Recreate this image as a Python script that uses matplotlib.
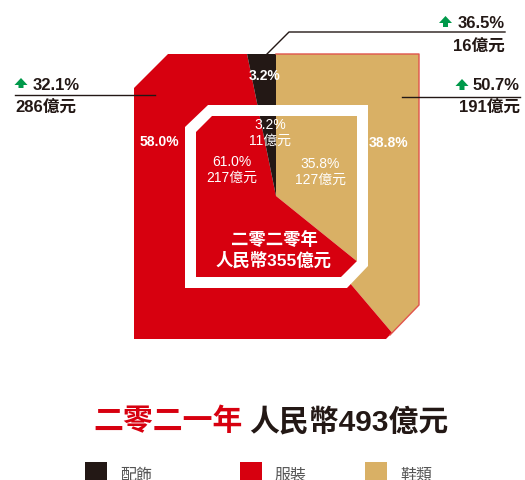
import matplotlib
matplotlib.use("Agg")
import matplotlib.pyplot as plt
from matplotlib.patches import Polygon, FancyArrow, Rectangle
from matplotlib.path import Path

# data
categories = ["配飾", "服裝", "鞋類"]
colors = ["#231815", "#D7000F", "#D9B065"]
share_2021 = [3.2, 58.0, 38.8]
value_2021 = [16, 286, 191]
growth_2021 = [36.5, 32.1, 50.7]
share_2020 = [3.2, 61.0, 35.8]
value_2020 = [11, 217, 127]
total_2021 = 493
total_2020 = 355

W, H = 525, 481
FONT = ["Liberation Sans", "Noto Sans CJK TC", "DejaVu Sans"]
plt.rcParams["font.family"] = FONT


def py(y):
    # pixel row -> data y (y axis points up)
    return H - y


def pts(seq):
    return [(x, py(y)) for x, y in seq]


fig = plt.figure(figsize=(W / 100, H / 100), dpi=100)
ax = fig.add_axes([0, 0, 1, 1])

center = (276, py(197))
order = [2, 1, 0]  # clockwise from 12 o'clock: shoes, apparel, accessories

# outer (2021) pie clipped to a cut-corner square
outer_verts = pts([(168, 55), (419, 55), (419, 306), (386, 340),
                   (134, 340), (134, 89), (168, 55)])
wedges, _ = ax.pie([share_2021[i] for i in order],
                   colors=[colors[i] for i in order],
                   startangle=90, counterclock=False,
                   center=center, radius=330,
                   wedgeprops=dict(linewidth=0))
for w in wedges:
    w.set_clip_on(True)  # pie turns clipping off
    w.set_clip_path(Path(outer_verts, closed=True), ax.transData)
    w.set_zorder(2)
ax.plot(*zip(*pts([(276, 55), (419, 55), (419, 306), (390, 336)])),
        color="#E0544C", lw=1.0, zorder=3)

# white frame + inner (2020) pie
ax.add_patch(Polygon(pts([(208, 106), (368, 106), (368, 267), (347, 289),
                          (185, 289), (185, 128)]),
                     closed=True, facecolor="white", lw=0, zorder=4))
inner_verts = pts([(212, 117), (357, 117), (357, 262), (341, 278),
                   (196, 278), (196, 133), (212, 117)])
wedges2, _ = ax.pie([share_2020[i] for i in order],
                    colors=[colors[i] for i in order],
                    startangle=90, counterclock=False,
                    center=center, radius=200,
                    wedgeprops=dict(linewidth=0))
for w in wedges2:
    w.set_clip_on(True)
    w.set_clip_path(Path(inner_verts, closed=True), ax.transData)
    w.set_zorder(5)

ax.set_xlim(0, W)
ax.set_ylim(0, H)
ax.set_aspect("auto")
ax.axis("off")

# outer labels
bold = dict(color="white", fontsize=10, fontweight="bold",
            ha="center", va="center", zorder=6)
ax.text(265, py(76), f"{share_2021[0]:.1f}%", **bold)
ax.text(159, py(142), f"{share_2021[1]:.1f}%", **bold)
ax.text(389, py(143), f"{share_2021[2]:.1f}%", **bold)

# inner labels
thin = dict(color="white", fontsize=10, ha="center", va="center",
            zorder=6, linespacing=1.15)
ax.text(270, py(133), f"{share_2020[0]:.1f}%\n{value_2020[0]}億元", **thin)
ax.text(232, py(170), f"{share_2020[1]:.1f}%\n{value_2020[1]}億元", **thin)
ax.text(320, py(172), f"{share_2020[2]:.1f}%\n{value_2020[2]}億元", **thin)
ax.text(274, py(250), f"二零二零年\n人民幣{total_2020}億元", color="white",
        fontsize=12.5, fontweight="bold", ha="center", va="center",
        zorder=6, linespacing=1.2)

# callouts
dark = "#231815"
green = "#00994A"
lab = dict(color=dark, fontsize=12, fontweight="bold", va="center", zorder=6)


def up_arrow(x, ytop, ybot):
    ax.add_patch(FancyArrow(x, py(ybot), 0, ybot - ytop, width=5,
                            head_width=13, head_length=7,
                            length_includes_head=True, color=green,
                            lw=0, zorder=6))


# apparel (left)
ax.plot([15, 155], [py(96), py(96)], color=dark, lw=1, zorder=6)
up_arrow(21, 79, 89)
ax.text(33, py(85), f"{growth_2021[1]:.1f}%", ha="left", **lab)
ax.text(15, py(108), f"{value_2021[1]}億元", ha="left", **lab)

# accessories (top)
ax.plot(*zip(*pts([(267, 55), (289, 33), (505, 33)])), color=dark, lw=1,
        zorder=6)
up_arrow(445.5, 17, 28)
ax.text(505, py(23), f"{growth_2021[0]:.1f}%", ha="right", **lab)
ax.text(505, py(47), f"{value_2021[0]}億元", ha="right", **lab)

# shoes (right)
ax.plot([402, 520], [py(98), py(98)], color=dark, lw=1, zorder=6)
up_arrow(462, 80, 91)
ax.text(520, py(86), f"{growth_2021[2]:.1f}%", ha="right", **lab)
ax.text(520, py(108), f"{value_2021[2]}億元", ha="right", **lab)

# title
ax.text(243, py(422), "二零二一年", color="#D7000F", fontsize=21.5,
        fontweight="bold", ha="right", va="center")
ax.text(249, py(422), f"人民幣{total_2021}億元", color=dark, fontsize=21.5,
        fontweight="bold", ha="left", va="center")

# legend (sits at the bottom edge, partly cut like the reference)
for x, name, c in zip([85, 240, 365], categories, colors):
    ax.add_patch(Rectangle((x, py(483)), 22, 20, facecolor=c, lw=0))
    ax.text(x + 35, py(475), name, color="#555555", fontsize=11.5,
            ha="left", va="center")

fig.savefig("out.png", dpi=100)
